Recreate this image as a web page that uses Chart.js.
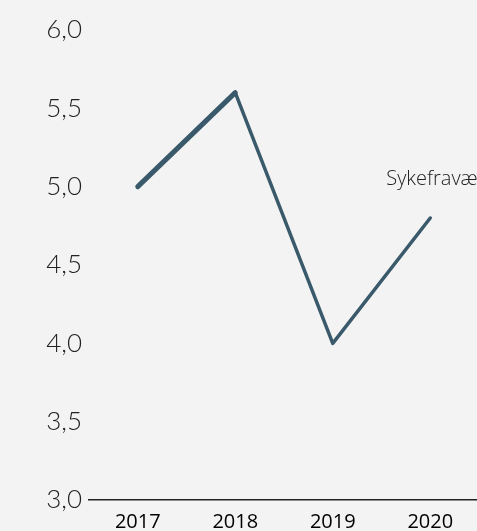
<!DOCTYPE html>
<html>
<head>
<meta charset="utf-8">
<script src="https://cdn.jsdelivr.net/npm/chart.js@4"></script>
<style>
  html, body { margin: 0; padding: 0; background: #f3f3f3; overflow: hidden; }
  #wrap { position: relative; width: 479px; height: 544px; }
</style>
</head>
<body>
<div id="wrap"><canvas id="chart"></canvas></div>
<script>
/* ── Data ── */
const years = ['2017', '2018', '2019', '2020'];
const sickLeave = [5.0, 5.6, 4.0, 4.8];
const yTicks = [3.0, 3.5, 4.0, 4.5, 5.0, 5.5, 6.0];
const seriesLabel = 'Sykefravær';

const LINE = '#3a5a6b';

// series name drawn next to the line, like the original annotation
const seriesLabelPlugin = {
    id: 'seriesLabel',
    afterDatasetsDraw(chart) {
        const { ctx, scales } = chart;
        const x = scales.x.getPixelForValue(3) - 44;
        const y = scales.y.getPixelForValue(sickLeave[3]) - 39;
        ctx.save();
        ctx.font = '300 20px "Open Sans"';
        ctx.fillStyle = '#222';
        ctx.textBaseline = 'middle';
        ctx.fillText(seriesLabel, x, y);
        ctx.restore();
    }
};

new Chart(document.getElementById('chart'), {
    type: 'line',
    data: {
        labels: years,
        datasets: [{
            label: seriesLabel,
            data: sickLeave,
            borderColor: LINE,
            borderWidth: 3.5,
            borderCapStyle: 'round',
            borderJoinStyle: 'round',
            pointRadius: 0,
            tension: 0,
            segment: { borderWidth: c => c.p0DataIndex === 0 ? 5 : 3.5 }
        }]
    },
    options: {
        responsive: true,
        maintainAspectRatio: false,
        animation: false,
        layout: { padding: { top: 30, right: 0, left: 0, bottom: 0 } },
        plugins: { legend: { display: false }, tooltip: { enabled: false } },
        scales: {
            x: {
                offset: true,
                grid: { display: false, drawTicks: false },
                border: { display: true, color: '#222', width: 1.5 },
                ticks: { color: '#000', padding: 10, font: { family: 'Open Sans', size: 20 } }
            },
            y: {
                min: 3, max: 6,
                afterBuildTicks: axis => { axis.ticks = yTicks.map(v => ({ value: v })); },
                afterFit: axis => { axis.width = 89; },
                grid: { display: false, drawTicks: false },
                border: { display: false },
                ticks: {
                    color: '#222', padding: 7,
                    font: { family: 'Lato', size: 26, weight: 300 },
                    callback: v => v.toFixed(1).replace('.', ',')
                }
            }
        }
    },
    plugins: [seriesLabelPlugin]
});
</script>
</body>
</html>
